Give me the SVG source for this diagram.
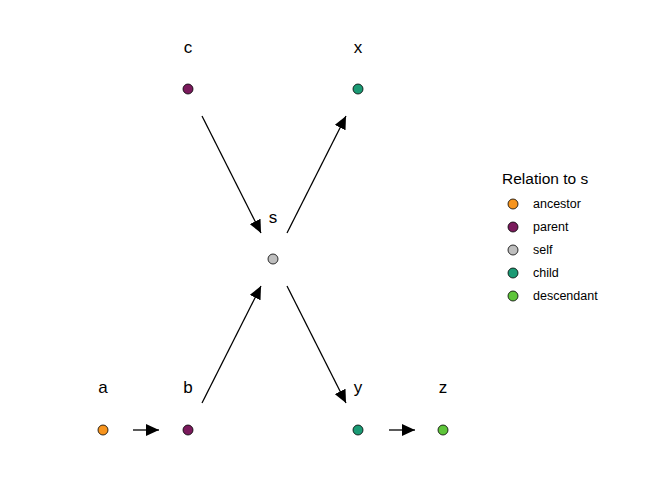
<svg xmlns="http://www.w3.org/2000/svg" width="672" height="480" viewBox="0 0 672 480">
<style>
.lbl{font-family:"Liberation Sans",Arial,sans-serif;font-size:17px;fill:#000;text-anchor:middle}
.leg{font-family:"Liberation Sans",Arial,sans-serif;font-size:12.5px;fill:#000}
.ttl{font-family:"Liberation Sans",Arial,sans-serif;font-size:15.5px;fill:#000}
.pt{stroke:#000;stroke-width:0.8}
.edge{stroke:#000;stroke-width:1.3;fill:none;marker-end:url(#ah)}
.anc{fill:#F7941D}.par{fill:#7A1A5C}.self{fill:#BEBEBE}.chi{fill:#1B9A74}.des{fill:#5EC53A}
</style>
<defs>
<marker id="ah" markerUnits="userSpaceOnUse" markerWidth="14" markerHeight="12" viewBox="0 0 14 12" refX="13" refY="6" orient="auto">
<path d="M0,0 L13,6 L0,12 Z" fill="#000"/>
</marker>
</defs>
<rect width="672" height="480" fill="#fff"/>
<g id="connectors">
<line class="edge" x1="202" y1="116" x2="261" y2="233"/>
<line class="edge" x1="287" y1="233" x2="346" y2="116"/>
<line class="edge" x1="202" y1="403" x2="261" y2="286"/>
<line class="edge" x1="287" y1="286" x2="346" y2="403"/>
<line class="edge" x1="133" y1="430" x2="159" y2="430"/>
<line class="edge" x1="389" y1="430" x2="415" y2="430"/>
</g>
<g id="node-a"><circle class="pt anc" cx="103" cy="430" r="5"/><text class="lbl" x="103" y="393">a</text></g>
<g id="node-b"><circle class="pt par" cx="188" cy="430" r="5"/><text class="lbl" x="188" y="393">b</text></g>
<g id="node-c"><circle class="pt par" cx="188" cy="89" r="5"/><text class="lbl" x="188" y="53">c</text></g>
<g id="node-x"><circle class="pt chi" cx="358" cy="89" r="5"/><text class="lbl" x="358" y="53">x</text></g>
<g id="node-s"><circle class="pt self" cx="273" cy="259" r="5"/><text class="lbl" x="273" y="223">s</text></g>
<g id="node-y"><circle class="pt chi" cx="358" cy="430" r="5"/><text class="lbl" x="358" y="393">y</text></g>
<g id="node-z"><circle class="pt des" cx="443" cy="430" r="5"/><text class="lbl" x="443" y="393">z</text></g>
<g id="legend">
<text class="ttl" x="502" y="184">Relation to s</text>
<circle class="pt anc" cx="513" cy="204" r="5"/><text class="leg" x="533" y="208">ancestor</text>
<circle class="pt par" cx="513" cy="227" r="5"/><text class="leg" x="533" y="231">parent</text>
<circle class="pt self" cx="513" cy="250" r="5"/><text class="leg" x="533" y="254">self</text>
<circle class="pt chi" cx="513" cy="273" r="5"/><text class="leg" x="533" y="277">child</text>
<circle class="pt des" cx="513" cy="296" r="5"/><text class="leg" x="533" y="300">descendant</text>
</g>
</svg>
